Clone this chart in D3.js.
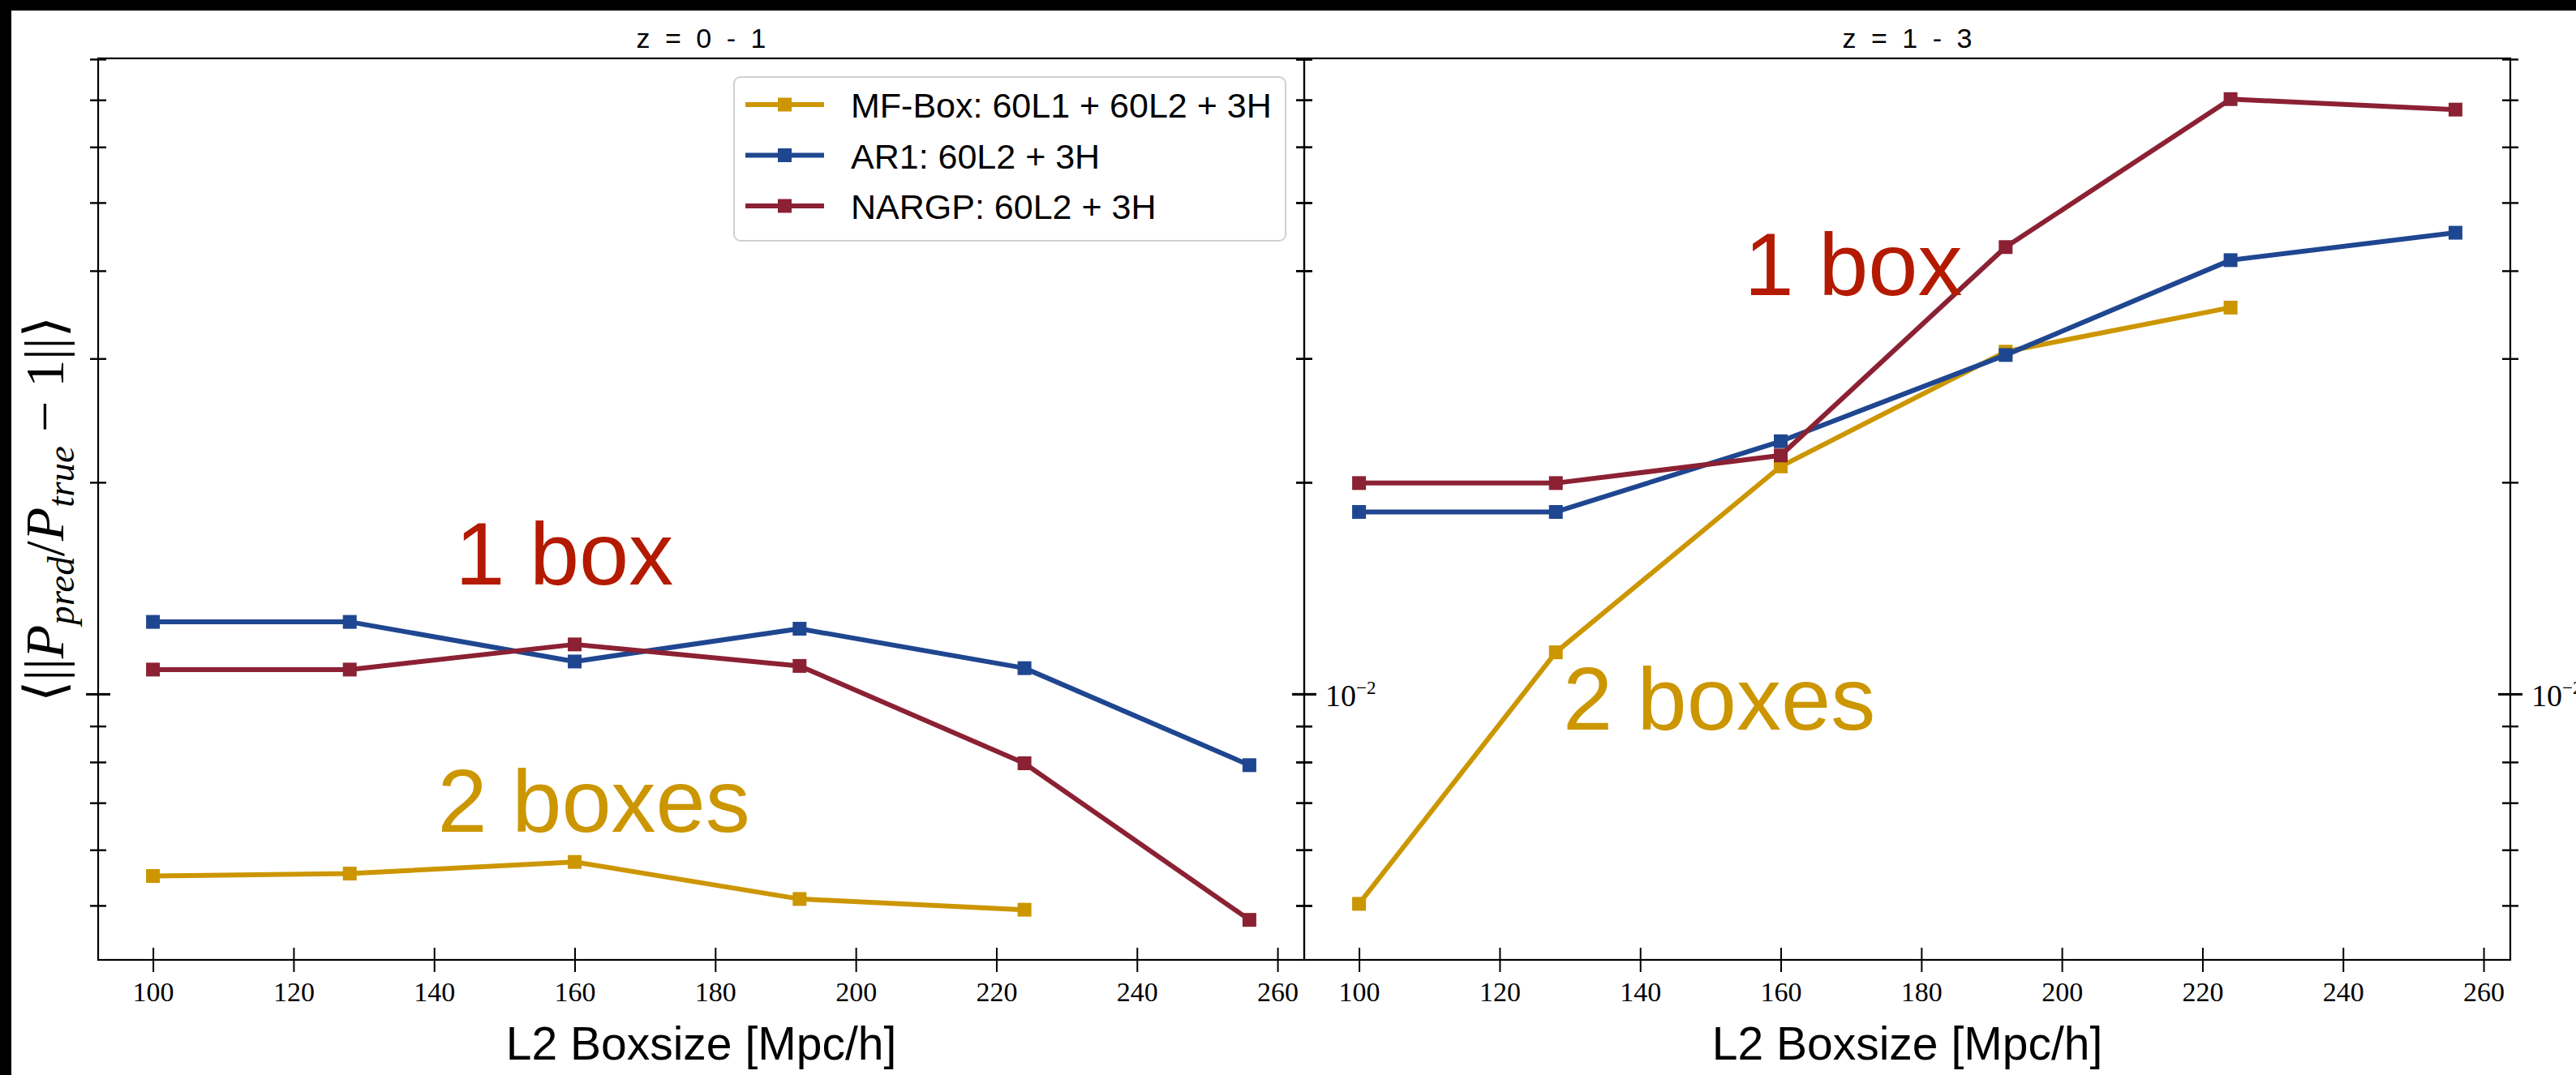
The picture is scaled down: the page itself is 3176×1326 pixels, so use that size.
<!DOCTYPE html>
<html>
<head>
<meta charset="utf-8">
<script src="https://cdn.jsdelivr.net/npm/d3@7"></script>
<style>
  body { margin: 0; background: #fff; }
  svg { display: block; }
</style>
</head>
<body>
<svg id="chart"></svg>
<script>
var W = 3176, H = 1326;

// ---- data ----
var boxsizes = [100, 128, 160, 192, 224, 256];
var panelTitles = ["z = 0 - 1", "z = 1 - 3"];
var seriesNames = ["MF-Box: 60L1 + 60L2 + 3H", "AR1: 60L2 + 3H", "NARGP: 60L2 + 3H"];
var seriesColors = ["#cc9600", "#1f4690", "#8b2133"];

// z = 0 - 1
var mfboxLow = [0.005507, 0.005551, 0.005767, 0.005108, 0.004931];
var ar1Low   = [0.01266, 0.01266, 0.01112, 0.01238, 0.01088, 0.007918];
var nargpLow = [0.01083, 0.01083, 0.01176, 0.01096, 0.007967, 0.004770];
// z = 1 - 3
var mfboxHigh = [0.005027, 0.01146, 0.02107, 0.03068, 0.03545];
var ar1High   = [0.01815, 0.01815, 0.02288, 0.03035, 0.04141, 0.04530];
var nargpHigh = [0.01995, 0.01995, 0.02184, 0.04322, 0.07018, 0.06781];

var xTicks = [100, 120, 140, 160, 180, 200, 220, 240, 260];
var yMajor = [0.01];
var yMinor = [0.005, 0.006, 0.007, 0.008, 0.009, 0.02, 0.03, 0.04, 0.05, 0.06, 0.07, 0.08];

var annotText = ["1 box", "2 boxes"];
var annotColors = ["#b31a00", "#cc9600"];
var annotLow  = [[143.0, 0.01432], [140.5, 0.006368]];
var annotHigh = [[154.8, 0.03695], [129.0, 0.00890]];

// ---- layout ----
var panelLeft = [121, 1608];
var panelW = 1487;
var plotTop = 72, plotBottom = 1184;

var serif = "'Liberation Serif', 'DejaVu Serif', serif";
var sans = "'Liberation Sans', Arial, sans-serif";

var svg = d3.select("#chart").attr("width", W).attr("height", H);
svg.append("rect").attr("width", W).attr("height", H).attr("fill", "#fff");

var y = d3.scaleLog().domain([0.004184, 0.0802]).range([plotBottom, plotTop]);

var panels = [
  { data: [mfboxLow, ar1Low, nargpLow], annot: annotLow },
  { data: [mfboxHigh, ar1High, nargpHigh], annot: annotHigh }
];

panels.forEach(function (p, pi) {
  var x0 = panelLeft[pi];
  var x = d3.scaleLinear().domain([92.2, 263.8]).range([x0, x0 + panelW]);
  var g = svg.append("g");

  // series lines + markers
  var line = d3.line().x(function (d) { return x(d[0]); }).y(function (d) { return y(d[1]); });
  p.data.forEach(function (vals, si) {
    var pts = d3.zip(boxsizes.slice(0, vals.length), vals);
    g.append("path").datum(pts)
      .attr("d", line)
      .attr("fill", "none")
      .attr("stroke", seriesColors[si])
      .attr("stroke-width", 6)
      .attr("stroke-linejoin", "round");
    g.selectAll(null).data(pts).enter().append("rect")
      .attr("x", function (d) { return x(d[0]) - 8.5; })
      .attr("y", function (d) { return y(d[1]) - 8.5; })
      .attr("width", 17).attr("height", 17)
      .attr("fill", seriesColors[si]);
  });

  // annotations
  p.annot.forEach(function (a, ai) {
    g.append("text")
      .attr("x", x(a[0])).attr("y", y(a[1]))
      .attr("fill", annotColors[ai])
      .style("font-family", sans)
      .style("font-size", "110px")
      .text(annotText[ai]);
  });

  // frame
  g.append("rect")
    .attr("x", x0).attr("y", plotTop)
    .attr("width", panelW).attr("height", plotBottom - plotTop)
    .attr("fill", "none").attr("stroke", "#000").attr("stroke-width", 2.2);

  // x axis
  g.append("g")
    .attr("transform", "translate(0," + plotBottom + ")")
    .call(d3.axisBottom(x).tickValues(xTicks).tickFormat(d3.format("d")).tickSizeOuter(0))
    .call(function (a) { a.select(".domain").remove(); })
    .call(function (a) {
      a.selectAll(".tick line").attr("y1", -15).attr("y2", 15).attr("stroke", "#000").attr("stroke-width", 2);
      a.selectAll(".tick text").attr("y", 51).attr("dy", 0).attr("fill", "#000")
        .style("font-family", serif).style("font-size", "34px");
    });

  // y ticks on both sides, label on the right
  var yTicks = yMajor.concat(yMinor);
  [x0, x0 + panelW].forEach(function (sx, side) {
    var ax = g.append("g")
      .attr("transform", "translate(" + sx + ",0)")
      .call(d3.axisRight(y).tickValues(yTicks).tickFormat("").tickSizeOuter(0));
    ax.select(".domain").remove();
    ax.selectAll(".tick line")
      .attr("stroke", "#000")
      .attr("x1", function (d) { return yMajor.indexOf(d) >= 0 ? -15 : -10; })
      .attr("x2", function (d) { return yMajor.indexOf(d) >= 0 ? 15 : 10; })
      .attr("stroke-width", function (d) { return yMajor.indexOf(d) >= 0 ? 3 : 2.4; });
    ax.selectAll(".tick text").remove();
    if (side === 1) {
      ax.selectAll(".tick").filter(function (d) { return yMajor.indexOf(d) >= 0; })
        .append("text")
        .attr("x", 26).attr("y", 15)
        .attr("fill", "#000")
        .style("font-family", serif).style("font-size", "38px")
        .each(function (d) {
          var e = Math.round(Math.log10(d));
          var t = d3.select(this);
          t.append("tspan").text("10");
          t.append("tspan").attr("dy", -15).style("font-size", "23px").text("\u2212" + Math.abs(e));
        });
    }
  });

  // title
  svg.append("text")
    .attr("x", x0 + panelW / 2).attr("y", 59)
    .attr("text-anchor", "middle")
    .style("font-family", sans).style("font-size", "34px").style("word-spacing", "9px")
    .text(panelTitles[pi]);

  // x label
  svg.append("text")
    .attr("x", x0 + panelW / 2).attr("y", 1307)
    .attr("text-anchor", "middle")
    .style("font-family", sans).style("font-size", "57px")
    .text("L2 Boxsize [Mpc/h]");
});

// y label
var yl = svg.append("text")
  .attr("transform", "translate(78,628) rotate(-90)")
  .attr("text-anchor", "middle")
  .style("font-family", serif).style("font-size", "68px");
yl.append("tspan").text("\u27e8||");
yl.append("tspan").style("font-style", "italic").text("P");
yl.append("tspan").style("font-style", "italic").style("font-size", "47px").attr("dy", 13).text("pred");
yl.append("tspan").attr("dy", -13).text("/");
yl.append("tspan").style("font-style", "italic").text("P");
yl.append("tspan").style("font-style", "italic").style("font-size", "47px").attr("dy", 13).text("true");
yl.append("tspan").attr("dy", -13).text(" \u2212 1||\u27e9");

// legend
var lg = svg.append("g");
lg.append("rect")
  .attr("x", 905).attr("y", 95).attr("width", 680).attr("height", 202)
  .attr("rx", 8).attr("fill", "#fff").attr("fill-opacity", 0.85)
  .attr("stroke", "#d0d0d0").attr("stroke-width", 2);
seriesNames.forEach(function (name, i) {
  var cy = 129 + i * 62.5;
  lg.append("line").attr("x1", 919).attr("x2", 1016).attr("y1", cy).attr("y2", cy)
    .attr("stroke", seriesColors[i]).attr("stroke-width", 6);
  lg.append("rect").attr("x", 967.5 - 8.5).attr("y", cy - 8.5).attr("width", 17).attr("height", 17)
    .attr("fill", seriesColors[i]);
  lg.append("text").attr("x", 1049).attr("y", cy + 16)
    .style("font-family", sans).style("font-size", "43px")
    .text(name);
});

// black border bands of the original screenshot
svg.append("rect").attr("x", 0).attr("y", 0).attr("width", W).attr("height", 13).attr("fill", "#000");
svg.append("rect").attr("x", 0).attr("y", 0).attr("width", 14).attr("height", H).attr("fill", "#000");
</script>
</body>
</html>
